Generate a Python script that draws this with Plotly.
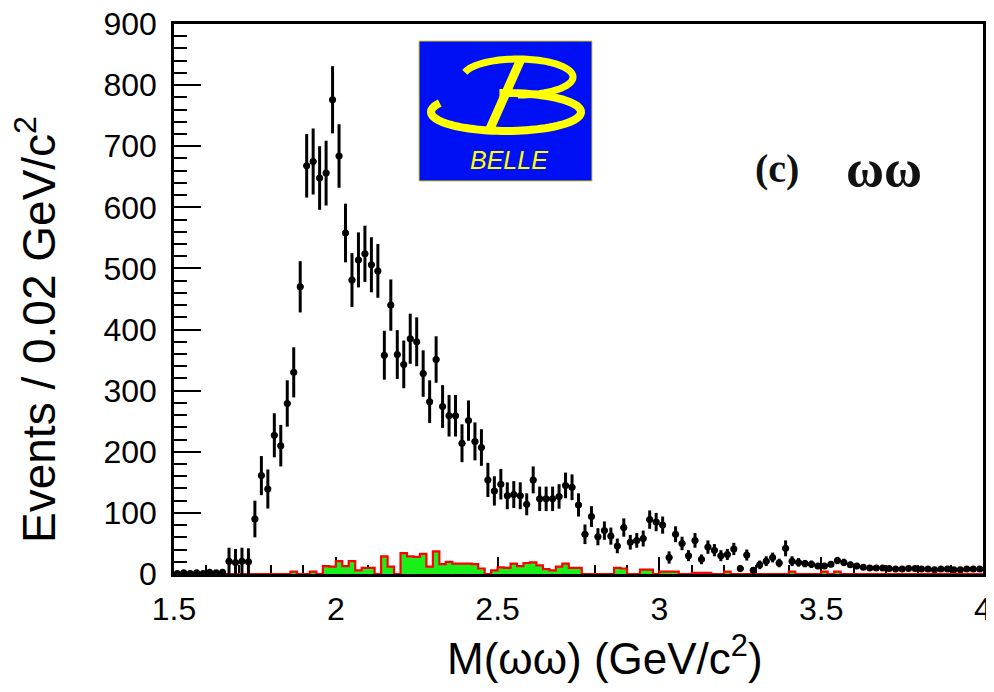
import numpy as np
import plotly.graph_objects as go

# ---------------- data ----------------
bin_width = 0.02
x_lo, x_hi = 1.5, 4.0
n_bins = 125
centers = np.round(x_lo + bin_width * (np.arange(n_bins) + 0.5), 3)
edges = np.round(x_lo + bin_width * np.arange(n_bins + 1), 3)

# Events per 0.02 GeV/c^2 (black points), bins 1.51 ... 3.99
events = [
    1, 2, 1, 2, 1, 3, 2,                 # 1.51-1.63
    3,                                   # 1.65
    21, 19, 21, 20,                      # 1.67-1.73
    90, 161, 139, 227, 210, 279, 330, 470,   # 1.75-1.89
    668, 675, 648, 656, 776, 684, 558, 481,  # 1.91-2.05
    514, 524, 506, 496, 358, 440, 359, 343,  # 2.07-2.21
    385, 380, 328, 282, 351, 274, 259, 259,  # 2.23-2.37
    214, 251, 217, 207, 154, 136, 147, 128,  # 2.39-2.53
    130, 128, 114, 154, 123, 123, 123, 127,  # 2.55-2.69
    145, 142, 113, 65, 94, 61, 71, 62,       # 2.71-2.85
    46, 76, 52, 55, 58, 89, 85, 80,          # 2.87-3.01
    27, 65, 50, 30, 55, 24, 44, 39,          # 3.03-3.17
    30, 32, 41, 9, 31, 6, 15, 21,            # 3.19-3.33
    27, 18, 42, 21, 19, 17, 16, 13,          # 3.35-3.49
    13, 16, 22, 19, 15, 13, 11, 10,          # 3.51-3.65
    10, 10, 9, 8, 8, 9, 9, 8, 8, 7, 8, 8, 7, 7, 8, 8, 8,  # 3.67-3.99
]
errors = [
    3, 3, 3, 3, 3, 4, 3,
    5,
    22, 22, 22, 22,
    30, 32, 32, 36, 34, 38, 41, 42,
    52, 54, 52, 53, 55, 52, 48, 44,
    45, 46, 45, 44, 40, 42, 40, 39,
    41, 40, 38, 35, 38, 35, 34, 34,
    31, 33, 31, 30, 28, 24, 25, 22,
    22, 22, 18, 22, 20, 20, 20, 20,
    21, 21, 19, 16, 17, 14, 15, 14,
    12, 15, 12, 12, 13, 15, 15, 14,
    10, 13, 11, 9, 12, 8, 11, 10,
    9, 9, 10, 5, 9, 4, 7, 8,
    8, 7, 13, 8, 7, 6, 6, 5,
    5, 5, 6, 6, 5, 5, 4, 4,
    4, 4, 4, 4, 4, 4, 4, 4, 4, 4, 4, 4, 4, 4, 4, 4, 4,
]
# Background histogram (green, red outline), same binning
background = [
    0, 0, 0, 0, 0, 0, 0, 0, 0, 0,            # 1.50-1.70
    0, 0, 0, 0, 0, 0, 0, 0, 4, 0,            # 1.70-1.90
    0, 4, 0, 13, 12, 21, 13, 21, 6, 10,      # 1.90-2.10
    10, 0, 29, 12, 0, 34, 29, 28, 33, 12,    # 2.10-2.30
    37, 16, 20, 17, 17, 17, 16, 9, 0, 6,     # 2.30-2.50
    11, 10, 17, 13, 18, 19, 14, 8, 6, 12,    # 2.50-2.70
    17, 10, 10, 0, 0, 0, 0, 0, 10, 9,        # 2.70-2.90
    0, 0, 7, 7, 0, 4, 4, 4, 0, 0,            # 2.90-3.10
    2, 2, 2, 0, 0, 4, 0, 0, 0, 0,            # 3.10-3.30
    0, 0, 0, 0, 0, 4, 0, 0, 0, 0,            # 3.30-3.50
    4, 0, 4, 0, 0, 0, 0, 0, 0, 0,            # 3.50-3.70
    0, 0, 0, 0, 0, 0, 0, 0, 0, 0,            # 3.70-3.90
    0, 0, 0, 0, 0,                           # 3.90-4.00
]

x_title = "M(ωω) (GeV/c<sup>2</sup>)"
y_title = "Events / 0.02 GeV/c<sup>2</sup>"
y_ticks = [0, 100, 200, 300, 400, 500, 600, 700, 800, 900]
x_ticks = [1.5, 2, 2.5, 3, 3.5, 4]
x_tick_text = ["1.5", "2", "2.5", "3", "3.5", "4"]

# ---------------- layout geometry ----------------
W, H = 994, 692
PAGE_OFFSET = 8          # default body margin of the html page
PX_L, PX_R, PX_T, PX_B = 174, 983, 24, 574   # plot area in window pixels


def to_paper(px, py):
    return (px - PX_L) / (PX_R - PX_L), (PX_B - py) / (PX_B - PX_T)


def poly_path(points):
    pp = [to_paper(x, y) for x, y in points]
    return "M " + " L ".join(f"{x:.5f},{y:.5f}" for x, y in pp)


def arc_points(cx, cy, rx, ry, t0, t1, n=80):
    ts = np.radians(np.linspace(t0, t1, n))
    return [(cx + rx * np.cos(t), cy + ry * np.sin(t)) for t in ts]


fig = go.Figure()

hist_y = list(background) + [background[-1]]
fig.add_trace(go.Scatter(
    x=edges, y=hist_y, mode="lines", line_shape="hv",
    line=dict(color="#ff0000", width=2.2),
    fill="tozeroy", fillcolor="#19f019",
    hoverinfo="skip", showlegend=False,
))

fig.add_trace(go.Scatter(
    x=centers, y=events, mode="markers",
    marker=dict(color="black", size=7),
    error_y=dict(type="data", array=errors, color="black", thickness=3, width=0),
    error_x=dict(type="constant", value=bin_width / 2, color="black", thickness=2.5, width=0),
    showlegend=False,
))

tick_font = dict(family="Liberation Sans, Arial, sans-serif", size=32, color="black")

fig.update_layout(
    width=W, height=H,
    margin=dict(l=PX_L - PAGE_OFFSET, r=W - PX_R + PAGE_OFFSET,
                t=PX_T - PAGE_OFFSET, b=H - PX_B + PAGE_OFFSET, pad=0, autoexpand=False),
    paper_bgcolor="white", plot_bgcolor="white",
    showlegend=False,
    xaxis=dict(
        range=[x_lo, x_hi], tickvals=x_ticks, ticktext=x_tick_text,
        ticks="inside", ticklen=17, tickwidth=2, tickcolor="black",
        minor=dict(dtick=0.1, ticks="inside", ticklen=9, tickwidth=2, tickcolor="black"),
        showline=True, linecolor="black", linewidth=2.5, mirror=True,
        showgrid=False, zeroline=False, tickfont=tick_font,
        ticklabelstandoff=5, ticklabeloverflow="allow",
        layer="below traces", automargin=False,
    ),
    yaxis=dict(
        range=[0, 900], tickvals=y_ticks,
        ticks="inside", ticklen=27, tickwidth=2, tickcolor="black",
        minor=dict(dtick=20, ticks="inside", ticklen=13, tickwidth=2, tickcolor="black"),
        showline=True, linecolor="black", linewidth=2.5, mirror=True,
        showgrid=False, zeroline=False, tickfont=tick_font,
        ticklabelstandoff=8, ticklabeloverflow="allow", automargin=False,
    ),
)

# axis titles
xt = to_paper(605, 655)
yt = to_paper(36, 330)
fig.add_annotation(x=xt[0], y=xt[1], xref="paper", yref="paper", text=x_title,
                   showarrow=False, xanchor="center", yanchor="middle",
                   font=dict(family="Liberation Sans, Arial, sans-serif", size=44, color="black"))
fig.add_annotation(x=yt[0], y=yt[1], xref="paper", yref="paper", text=y_title,
                   textangle=-90, showarrow=False, xanchor="center", yanchor="middle",
                   font=dict(family="Liberation Sans, Arial, sans-serif", size=46, color="black"))

# panel label
c1 = to_paper(777, 168)
c2 = to_paper(884, 168)
fig.add_annotation(x=c1[0], y=c1[1], xref="paper", yref="paper", text="<b>(c)</b>",
                   showarrow=False, xanchor="center", yanchor="middle",
                   font=dict(family="Liberation Serif, DejaVu Serif, serif", size=40, color="#111"))
fig.add_annotation(x=c2[0], y=c2[1], xref="paper", yref="paper", text="<b>ωω</b>",
                   showarrow=False, xanchor="center", yanchor="middle",
                   font=dict(family="Liberation Serif, DejaVu Serif, serif", size=52, color="#111"))

# BELLE logo
r0 = to_paper(419, 181)
r1 = to_paper(592, 41)
yellow = "#ffff00"
fig.add_shape(type="rect", xref="paper", yref="paper", x0=r0[0], y0=r0[1], x1=r1[0], y1=r1[1],
              fillcolor="#0010f5", line=dict(color="#d8d020", width=1))
fig.add_shape(type="path", xref="paper", yref="paper",
              path=poly_path(arc_points(518, 77, 55, 18, 195, 450)),
              line=dict(color=yellow, width=7))
fig.add_shape(type="path", xref="paper", yref="paper",
              path=poly_path(arc_points(506, 112, 75, 19, 208, -95)),
              line=dict(color=yellow, width=8))
fig.add_shape(type="path", xref="paper", yref="paper",
              path=poly_path([(521, 59), (489, 131)]),
              line=dict(color=yellow, width=9))
bl = to_paper(509, 160)
fig.add_annotation(x=bl[0], y=bl[1], xref="paper", yref="paper", text="<i>BELLE</i>",
                   showarrow=False, xanchor="center", yanchor="middle",
                   font=dict(family="Liberation Sans, Arial, sans-serif", size=25, color=yellow))

fig.write_html("out.html")
